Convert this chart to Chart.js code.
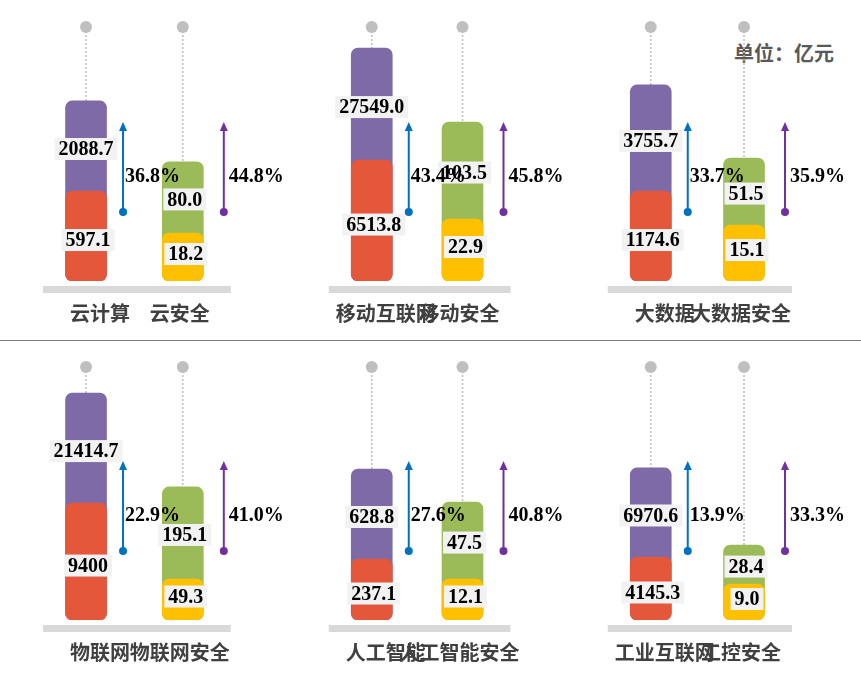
<!DOCTYPE html>
<html>
<head>
<meta charset="utf-8">
<script src="https://cdn.jsdelivr.net/npm/chart.js@4.4.0/dist/chart.umd.min.js"></script>
<style>
  body { margin: 0; background: #fff; }
  #page { position: relative; width: 861px; height: 684px; overflow: hidden; }
  .panel { position: absolute; }
  #sep { position: absolute; left: 0; top: 340px; width: 861px; height: 1px; background: #7f7f7f; }
  #unit { position: absolute; left: 734px; top: 38px; font: bold 20px "Noto Sans CJK SC"; color: #595959; }
</style>
</head>
<body>
<div id="page">
  <div id="sep"></div>
  <div id="unit">单位：亿元</div>
</div>
<script>
// 产业 / 安全 分类
const industryNames = ['云计算', '移动互联网', '大数据', '物联网', '人工智能', '工业互联网'];
const securityNames = ['云安全', '移动安全', '大数据安全', '物联网安全', '人工智能安全', '工控安全'];

// 数值标签（亿元）
const industryTotal = ['2088.7', '27549.0', '3755.7', '21414.7', '628.8', '6970.6'];
const industryCore = ['597.1', '6513.8', '1174.6', '9400', '237.1', '4145.3'];
const securityTotal = ['80.0', '103.5', '51.5', '195.1', '47.5', '28.4'];
const securityCore = ['18.2', '22.9', '15.1', '49.3', '12.1', '9.0'];

// 增长率
const industryGrowth = ['36.8%', '43.4%', '33.7%', '22.9%', '27.6%', '13.9%'];
const securityGrowth = ['44.8%', '45.8%', '35.9%', '41.0%', '40.8%', '33.3%'];

// 图中柱子的示意高度（0-100，从图上估读，非按比例）
const industryTotalH = [70.9, 91.7, 77.2, 89.7, 59.7, 60.1];
const industryCoreH = [35.4, 47.6, 35.4, 46.2, 24.1, 24.9];
const securityTotalH = [46.9, 62.6, 48.4, 52.6, 46.6, 29.6];
const securityCoreH = [18.9, 24.4, 22.0, 16.2, 16.2, 14.2];

const COL = { purple: '#7F6AA8', orange: '#E4573B', green: '#9BBB59', yellow: '#FFC000' };
// 每列画布的左右边界和 x 轴范围（两根柱子分别在 x=0 和 x=1）
const boxEdges = [[0, 300], [300, 580], [580, 861]];
const xRange = [[-0.579, 1.901], [-0.405, 1.909], [-0.382, 1.878]];

const numFont = 'bold 20px "Liberation Serif"';

function valueLabel(ctx, text, x, y) {
  ctx.font = numFont;
  const w = ctx.measureText(text).width + 8;
  ctx.fillStyle = '#f2f2f2';
  ctx.fillRect(x - w / 2, y - 11, w, 22);
  ctx.fillStyle = '#000';
  ctx.textAlign = 'center';
  ctx.textBaseline = 'middle';
  ctx.fillText(text, x, y + 1);
}

function arrow(ctx, x, yDot, yTip, color) {
  ctx.strokeStyle = color; ctx.fillStyle = color; ctx.lineWidth = 2;
  ctx.beginPath(); ctx.moveTo(x, yDot); ctx.lineTo(x, yTip + 6); ctx.stroke();
  ctx.beginPath(); ctx.moveTo(x, yTip); ctx.lineTo(x - 4, yTip + 9); ctx.lineTo(x + 4, yTip + 9); ctx.closePath(); ctx.fill();
  ctx.beginPath(); ctx.arc(x, yDot, 4, 0, Math.PI * 2); ctx.fill();
}

function makeDecor(i) {
  return {
    id: 'decor' + i,
    beforeDatasetsDraw(chart) {
      const ctx = chart.ctx;
      const x = chart.scales.x, y = chart.scales.y;
      const bottom = y.getPixelForValue(0);
      const top = y.getPixelForValue(100);
      const c0 = x.getPixelForValue(0), c1 = x.getPixelForValue(1);
      ctx.save();
      ctx.fillStyle = '#d9d9d9';
      ctx.fillRect(c0 - 43, bottom + 5, c1 - c0 + 91, 7);
      [[c0, industryTotalH[i]], [c1, securityTotalH[i]]].forEach(([cx, h]) => {
        ctx.strokeStyle = '#bfbfbf'; ctx.lineWidth = 1.5; ctx.setLineDash([2, 2]);
        ctx.beginPath(); ctx.moveTo(cx, top); ctx.lineTo(cx, y.getPixelForValue(h)); ctx.stroke();
        ctx.setLineDash([]);
        ctx.fillStyle = '#bfbfbf';
        ctx.beginPath(); ctx.arc(cx, top, 6, 0, Math.PI * 2); ctx.fill();
      });
      ctx.font = 'bold 20px "Noto Sans CJK SC"';
      ctx.fillStyle = '#404040';
      ctx.textAlign = 'center'; ctx.textBaseline = 'middle';
      ctx.fillText(industryNames[i], c0 + 14, bottom + 32);
      ctx.fillText(securityNames[i], c1 - 3, bottom + 32);
      ctx.restore();
    },
    afterDatasetsDraw(chart) {
      const ctx = chart.ctx;
      const x = chart.scales.x, y = chart.scales.y;
      const bottom = y.getPixelForValue(0);
      const c0 = x.getPixelForValue(0), c1 = x.getPixelForValue(1);
      const mid = (a, b) => (y.getPixelForValue(a) + y.getPixelForValue(b)) / 2;
      ctx.save();
      valueLabel(ctx, industryTotal[i], c0, mid(industryCoreH[i], industryTotalH[i]) + 3);
      valueLabel(ctx, industryCore[i], c0 + 2, mid(0, industryCoreH[i]) + 4);
      valueLabel(ctx, securityTotal[i], c1 + 2, mid(securityCoreH[i], securityTotalH[i]) + 2);
      valueLabel(ctx, securityCore[i], c1 + 3, mid(0, securityCoreH[i]) - 3);
      arrow(ctx, c0 + 37, bottom - 69, bottom - 159, '#0070C0');
      arrow(ctx, c1 + 41, bottom - 69, bottom - 159, '#7030A0');
      ctx.font = numFont; ctx.fillStyle = '#000';
      ctx.textAlign = 'left'; ctx.textBaseline = 'middle';
      ctx.fillText(industryGrowth[i], c0 + 39, bottom - 104);
      ctx.fillText(securityGrowth[i], c1 + 46, bottom - 104);
      ctx.restore();
    }
  };
}

const page = document.getElementById('page');
for (let i = 0; i < 6; i++) {
  const row = Math.floor(i / 3), col = i % 3;
  const rowTop = row === 0 ? 0 : 340;
  const rowH = row === 0 ? 340 : 344;
  const padBottom = row === 0 ? 59 : 64;
  const [b, e] = boxEdges[col];
  const box = document.createElement('div');
  box.className = 'panel';
  box.style.left = b + 'px';
  box.style.top = rowTop + 'px';
  box.style.width = (e - b) + 'px';
  box.style.height = rowH + 'px';
  const canvas = document.createElement('canvas');
  box.appendChild(canvas);
  page.appendChild(box);

  const barStyle = { borderRadius: 7, borderSkipped: false, barThickness: 41, grouped: false };
  new Chart(canvas, {
    type: 'bar',
    data: {
      datasets: [
        Object.assign({
          label: '核心',
          data: [{ x: 0, y: industryCoreH[i] }, { x: 1, y: securityCoreH[i] }],
          backgroundColor: [COL.orange, COL.yellow]
        }, barStyle),
        Object.assign({
          label: '总计',
          data: [{ x: 0, y: industryTotalH[i] }, { x: 1, y: securityTotalH[i] }],
          backgroundColor: [COL.purple, COL.green]
        }, barStyle)
      ]
    },
    options: {
      responsive: true,
      maintainAspectRatio: false,
      animation: false,
      layout: { padding: { left: 0, right: 0, top: 27, bottom: padBottom } },
      plugins: { legend: { display: false }, tooltip: { enabled: false } },
      scales: {
        x: { type: 'linear', display: false, min: xRange[col][0], max: xRange[col][1] },
        y: { display: false, min: 0, max: 100 }
      }
    },
    plugins: [makeDecor(i)]
  });
}
</script>
</body>
</html>
